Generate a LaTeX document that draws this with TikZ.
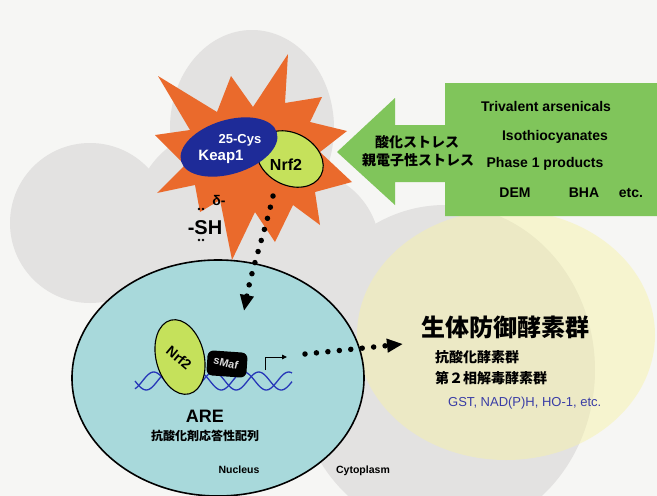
\documentclass[tikz,border=0pt]{standalone}
\usepackage{fontspec}
\setmainfont{Liberation Sans}
\newfontfamily\jpfont{Noto Sans CJK JP}
\definecolor{paper}{HTML}{F6F6F4}
\definecolor{cloudgray}{HTML}{E3E2E1}
\definecolor{lemon}{HTML}{F7F3A4}
\definecolor{stressgreen}{HTML}{80C55B}
\definecolor{burstorange}{HTML}{EA6A2C}
\definecolor{keapblue}{HTML}{1E2B98}
\definecolor{nrfgreen}{HTML}{C5E15B}
\definecolor{nucleusblue}{HTML}{A8D9DB}
\definecolor{dnablue}{HTML}{2636B8}
\definecolor{enzblue}{HTML}{3A3DA6}
\usetikzlibrary{shapes.geometric,arrows.meta}
\newcommand\fsz[1]{\fontsize{#1}{#1}\selectfont}

\begin{document}
\begin{tikzpicture}[x=1pt, y=-1pt,
  blob/.style={fill=cloudgray},
  protein/.style={ellipse, draw=black, line width=1.1pt, fill=nrfgreen, inner sep=0pt},
  lab/.style={font=\bfseries\fsz{14}, inner sep=0pt, anchor=base},
  jlab/.style={font=\jpfont\bfseries\fsz{14}, inner sep=0pt, anchor=base},
  dotarrow/.style={line width=5.5pt, line cap=round, dash pattern=on 0pt off 11.5pt,
    -{Triangle[length=16pt,width=13pt]}},
  dna/.style={draw=dnablue, line width=1.3pt}]
\useasboundingbox (0,0) rectangle (657,496);
\clip (0,0) rectangle (657,496);
\fill[paper] (0,0) rectangle (657,496);

% grey cloud behind everything
\fill[blob] (252,128) ellipse [x radius=82, y radius=98];
\fill[blob] (90,223) circle [radius=80];
\fill[blob] (220,215) circle [radius=85];
\fill[blob] (300,250) circle [radius=80];
\fill[blob] (445,370) ellipse [x radius=150, y radius=165];
% yellow cytoplasm disc
\fill[lemon, opacity=.45] (506,335) ellipse [x radius=149, y radius=125];

% nucleus
\node[ellipse, draw=black, line width=1.6pt, fill=nucleusblue, minimum width=292pt, minimum height=236pt] (nucleus) at (218,378) {};

% stress arrow
\fill[stressgreen] (337,152) -- (395,98) -- (395,125) -- (445,125) -- (445,83) -- (660,83)
  -- (660,216) -- (445,216) -- (445,182) -- (395,182) -- (395,205) -- cycle;
\node[jlab] (ox) at (417,147) {酸化ストレス};
\node[jlab] (elec) at (418,165) {親電子性ストレス};
\node[lab] (arsen) at (546,111) {Trivalent arsenicals};
\node[lab] (itc) at (555,140) {Isothiocyanates};
\node[lab] (phase) at (545,167) {Phase 1 products};
\node[lab] (dem) at (515,197) {DEM};
\node[lab] (bha) at (584,197) {BHA};
\node[lab] (etc1) at (631,197) {etc.};

% burst
\fill[burstorange] (158,76) -- (217,112) -- (231,76) -- (253,107) -- (288,54) -- (285,103)
  -- (322,97) -- (310,122) -- (347,131) -- (320,152) -- (352,182) -- (315,192) -- (320,225)
  -- (293,205) -- (275,242) -- (255,212) -- (232,260) -- (220,200) -- (200,212) -- (195,185)
  -- (157,193) -- (185,165) -- (155,135) -- (190,130) -- cycle;

% Keap1 / Nrf2 complex
\node[protein, minimum width=70pt, minimum height=52pt, rotate=-28] (nrfc) at (290,159) {};
\node[ellipse, fill=keapblue, minimum width=100pt, minimum height=54pt, rotate=17] (keap) at (229,147) {};
\node[lab, white, font=\bfseries\fsz{13}] (cys) at (240,143) {25-Cys};
\node[lab, white, font=\bfseries\fsz{15}] (keaplab) at (221,160) {Keap1};
\node[lab, font=\bfseries\fsz{16}] (nrfclab) at (286,170) {Nrf2};

% thiol
\node[lab, font=\bfseries\fsz{14}] (delta) at (219,205) {δ-};
\node[lab, font=\bfseries\fsz{20}] (sh) at (205,234) {-SH};
\foreach \x in {199,203} {
  \fill (\x,209) circle [radius=1.3];
  \fill (\x,240) circle [radius=1.3];
}

% ARE with bound Nrf2/sMaf
\draw[dna] plot[domain=135:292, samples=100, smooth] (\x,{381+9*sin(8*(\x-135))});
\draw[dna] plot[domain=135:292, samples=100, smooth] (\x,{381+9*sin(8*(\x-135)+120)});
\node[fill=black, rounded corners=6pt, minimum width=40pt, minimum height=25pt, rotate=-4] (smaf) at (227,364) {};
\node[lab, text=black!15, font=\bfseries\fsz{11}, anchor=center, rotate=-14] (smaflab) at (226,363) {sMaf};
\node[protein, minimum width=48pt, minimum height=76pt, rotate=14] (nrfn) at (180,357) {};
\node[lab, font=\bfseries\fsz{14}, anchor=center, rotate=-40] (nrfnlab) at (179,358) {Nrf2};
\coordinate (tss) at (265,370);
\coordinate (tsstip) at (287,357);
\draw[line width=.9pt, -{Triangle[length=5pt,width=4.5pt]}] (tss) |- (tsstip);

\node[lab, font=\bfseries\fsz{18}] (are) at (205,422) {ARE};
\node[jlab, font=\jpfont\bfseries\fsz{12}] (arejp) at (205,440) {抗酸化剤応答性配列};
\node[lab, font=\bfseries\fsz{10.5}] (nuc) at (239,473) {Nucleus};
\node[lab, font=\bfseries\fsz{10.5}] (cyto) at (363,473) {Cytoplasm};

% enzymes
\node[jlab, font=\jpfont\bfseries\fsz{24}] (defense) at (505,336) {生体防御酵素群};
\node[jlab, anchor=base west] (antiox) at (435,362) {抗酸化酵素群};
\node[jlab, anchor=base west] (phase2) at (435,383) {第２相解毒酵素群};
\node[lab, font=\fsz{13}, text=enzblue, anchor=base west] (enz) at (448,406) {GST, NAD(P)H, HO-1, etc.};

% translocation and induction
\coordinate (relstart) at (273,196);
\coordinate (relend) at (244,311);
\draw[dotarrow] (relstart) .. controls (266,228) and (252,268) .. (relend);
\coordinate (expstart) at (305,354);
\coordinate (expend) at (403,344);
\draw[dotarrow] (expstart) -- (expend);
\end{tikzpicture}
\end{document}
